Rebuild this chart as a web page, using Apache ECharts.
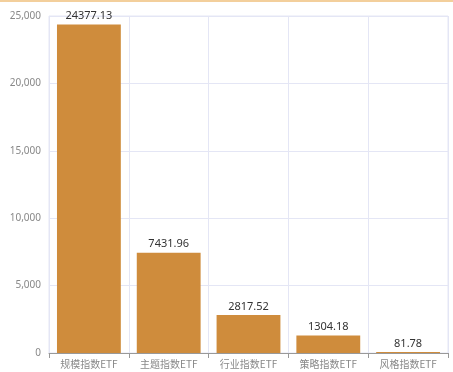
<!DOCTYPE html>
<html><head><meta charset="utf-8">
<script src="https://cdn.jsdelivr.net/npm/echarts@6/dist/echarts.min.js"></script>
<style>html,body{margin:0;padding:0;background:#fff}#c{width:453px;height:372px}</style>
</head><body><div id="c"></div>
<script>
const categories = ["规模指数ETF","主题指数ETF","行业指数ETF","策略指数ETF","风格指数ETF"];
const values = [24377.13, 7431.96, 2817.52, 1304.18, 81.78];
const yTicks = [0, 5000, 10000, 15000, 20000, 25000];

const chart = echarts.init(document.getElementById('c'));
chart.setOption({
  animation: false,
  graphic: [{type:'rect', shape:{x:0,y:0,width:453,height:2}, style:{fill:'#f3cf9c'}}],
  grid: {left: 49, right: 5, top: 16, bottom: 19, show: true, borderColor: '#e4e6f5', borderWidth: 1},
  xAxis: {
    type: 'category', data: categories,
    axisLine: {lineStyle: {color: '#999'}},
    axisTick: {show: true, lineStyle: {color: '#999'}},
    axisLabel: {color: '#888', fontSize: 10, margin: 6, fontFamily: 'Noto Sans CJK SC'},
    splitLine: {show: true, lineStyle: {color: '#e4e6f5'}}
  },
  yAxis: {
    type: 'value', min: yTicks[0], max: yTicks[yTicks.length-1], interval: 5000,
    axisLine: {show: false}, axisTick: {show: false},
    axisLabel: {color: '#888', fontSize: 10, margin: 8, fontFamily: 'Noto Sans',
      formatter: v => v.toLocaleString('en-US')},
    splitLine: {lineStyle: {color: '#e4e6f5'}}
  },
  series: [{
    type: 'bar', data: values, barCategoryGap: '20%',
    itemStyle: {color: '#cf8c3c'},
    label: {show: true, position: 'top', color: '#333', fontSize: 11, fontFamily: 'Noto Sans', distance: 3,
      formatter: p => p.value.toFixed(2)}
  }]
});
</script></body></html>
